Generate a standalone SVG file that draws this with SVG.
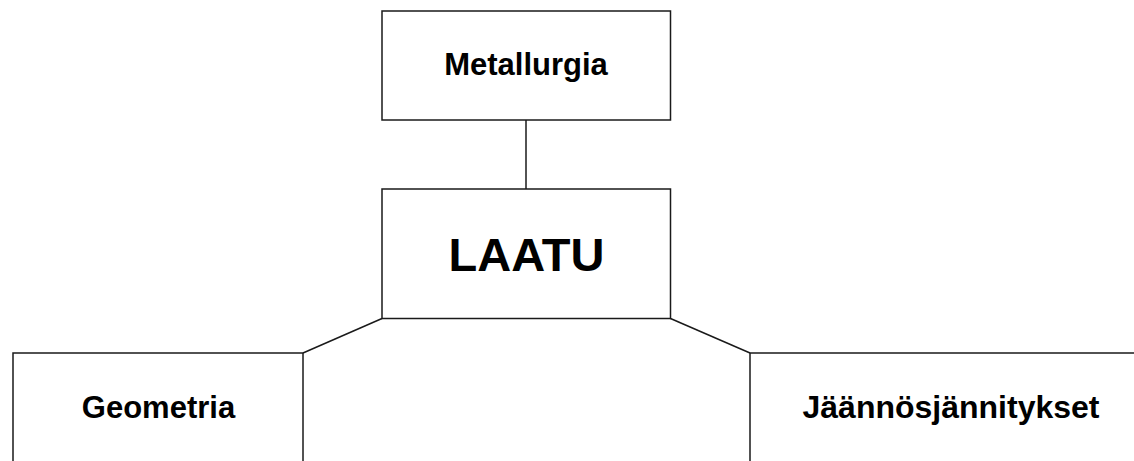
<svg xmlns="http://www.w3.org/2000/svg" width="1134" height="461" viewBox="0 0 1134 461">
<style>
.box{fill:#fff;stroke:#1a1a1a;stroke-width:1.5}
.lbl{font-family:"Liberation Sans",Arial,sans-serif;font-weight:bold;fill:#000;text-anchor:middle}
.conn{stroke:#1a1a1a;stroke-width:1.5;fill:none}
</style>
<rect width="1134" height="461" fill="#fff"/>
<g id="connectors">
<line class="conn" x1="526" y1="120" x2="526" y2="189"/>
<line class="conn" x1="382" y1="318.5" x2="303" y2="353"/>
<line class="conn" x1="670.5" y1="318.5" x2="750" y2="353"/>
</g>
<g id="metallurgia">
<rect class="box" x="382" y="11" width="288.5" height="109"/>
<text class="lbl" x="526" y="75" font-size="31">Metallurgia</text>
</g>
<g id="laatu">
<rect class="box" x="382" y="189" width="288.5" height="129.5"/>
<text class="lbl" x="526.5" y="271" font-size="47">LAATU</text>
</g>
<g id="geometria">
<rect class="box" x="13" y="353" width="290" height="130"/>
<text class="lbl" x="158.5" y="418" font-size="31">Geometria</text>
</g>
<g id="jaannosjannitykset">
<rect class="box" x="750" y="353" width="420" height="130"/>
<text class="lbl" x="951" y="418" font-size="32">Jäännösjännitykset</text>
</g>
</svg>
